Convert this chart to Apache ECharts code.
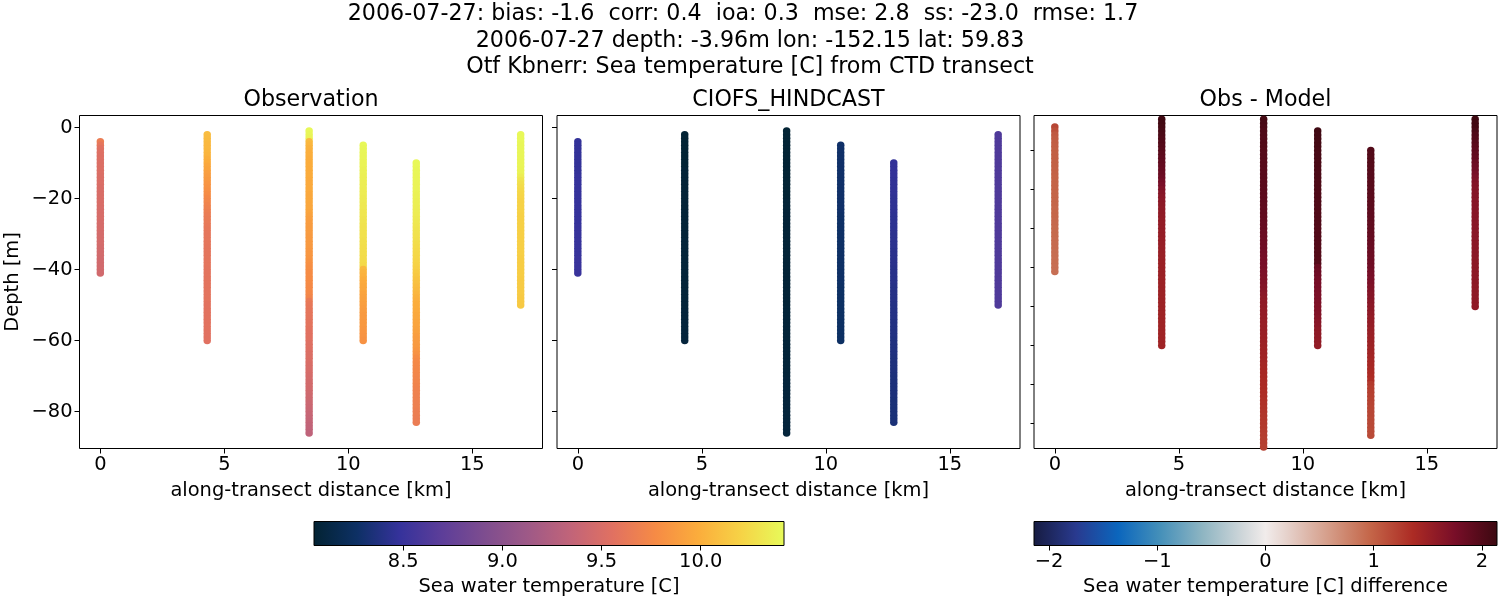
<!DOCTYPE html>
<html><head><meta charset="utf-8">
<style>html,body{margin:0;padding:0;background:#fff}#c{width:1500px;height:600px}</style>
<script src="https://cdn.jsdelivr.net/npm/echarts@6/dist/echarts.min.js"></script>
</head><body><div id="c"></div>
<script>
const FONT = 'DejaVu Sans';
const titleLines = [
  '2006-07-27: bias: -1.6  corr: 0.4  ioa: 0.3  mse: 2.8  ss: -23.0  rmse: 1.7',
  '2006-07-27 depth: -3.96m lon: -152.15 lat: 59.83',
  'Otf Kbnerr: Sea temperature [C] from CTD transect'
];
const panelTitles = ['Observation', 'CIOFS_HINDCAST', 'Obs - Model'];
const xName = 'along-transect distance [km]';
const xTicks = [0, 5, 10, 15];
const yTicks = [0, -20, -40, -60, -80];
const yTicksDiff = [-10, -20, -30, -40, -50, -60, -70, -80];
const cbTicks = [8.5, 9.0, 9.5, 10.0];
const cbDiffTicks = [-2, -1, 0, 1, 2];
const tempRange = [8.05, 10.42];
const diffRange = [-2.14, 2.14];

const thermal = ['rgb(3,35,51)','rgb(13,48,100)','rgb(53,50,155)','rgb(93,62,153)','rgb(126,77,143)','rgb(158,89,135)','rgb(193,100,121)','rgb(225,113,97)','rgb(246,139,69)','rgb(251,173,60)','rgb(246,211,70)','rgb(231,250,90)'];
const balance = ['rgb(23,28,66)','rgb(32,43,104)','rgb(41,58,143)','rgb(26,80,166)','rgb(11,102,189)','rgb(40,123,187)','rgb(69,144,185)','rgb(105,162,190)','rgb(142,181,194)','rgb(176,198,206)','rgb(210,216,219)','rgb(241,236,235)','rgb(230,210,204)','rgb(221,183,170)','rgb(213,157,137)','rgb(204,129,104)','rgb(196,101,72)','rgb(184,72,54)','rgb(172,43,36)','rgb(146,28,38)','rgb(120,14,40)','rgb(90,11,28)','rgb(60,9,17)'];

const distances = [0, 4.31, 8.42, 10.6, 12.74, 16.95];

const depth0 = [-3.96,-5,-6,-7,-8,-9,-10,-11,-12,-13,-14,-15,-16,-17,-18,-19,-20,-21,-22,-23,-24,-25,-26,-27,-28,-29,-30,-31,-32,-33,-34,-35,-36,-37,-38,-39,-40,-41];
const depth1 = [-2,-3,-4,-5,-6,-7,-8,-9,-10,-11,-12,-13,-14,-15,-16,-17,-18,-19,-20,-21,-22,-23,-24,-25,-26,-27,-28,-29,-30,-31,-32,-33,-34,-35,-36,-37,-38,-39,-40,-41,-42,-43,-44,-45,-46,-47,-48,-49,-50,-51,-52,-53,-54,-55,-56,-57,-58,-59,-60];
const depth2 = [-1,-2,-3,-4,-5,-6,-7,-8,-9,-10,-11,-12,-13,-14,-15,-16,-17,-18,-19,-20,-21,-22,-23,-24,-25,-26,-27,-28,-29,-30,-31,-32,-33,-34,-35,-36,-37,-38,-39,-40,-41,-42,-43,-44,-45,-46,-47,-48,-49,-50,-51,-52,-53,-54,-55,-56,-57,-58,-59,-60,-61,-62,-63,-64,-65,-66,-67,-68,-69,-70,-71,-72,-73,-74,-75,-76,-77,-78,-79,-80,-81,-82,-83,-84,-85,-86];
const depth3 = [-5,-6,-7,-8,-9,-10,-11,-12,-13,-14,-15,-16,-17,-18,-19,-20,-21,-22,-23,-24,-25,-26,-27,-28,-29,-30,-31,-32,-33,-34,-35,-36,-37,-38,-39,-40,-41,-42,-43,-44,-45,-46,-47,-48,-49,-50,-51,-52,-53,-54,-55,-56,-57,-58,-59,-60];
const depth4 = [-10,-11,-12,-13,-14,-15,-16,-17,-18,-19,-20,-21,-22,-23,-24,-25,-26,-27,-28,-29,-30,-31,-32,-33,-34,-35,-36,-37,-38,-39,-40,-41,-42,-43,-44,-45,-46,-47,-48,-49,-50,-51,-52,-53,-54,-55,-56,-57,-58,-59,-60,-61,-62,-63,-64,-65,-66,-67,-68,-69,-70,-71,-72,-73,-74,-75,-76,-77,-78,-79,-80,-81,-82,-83];
const depth5 = [-2,-3,-4,-5,-6,-7,-8,-9,-10,-11,-12,-13,-14,-15,-16,-17,-18,-19,-20,-21,-22,-23,-24,-25,-26,-27,-28,-29,-30,-31,-32,-33,-34,-35,-36,-37,-38,-39,-40,-41,-42,-43,-44,-45,-46,-47,-48,-49,-50];

const obs0 = [9.66,9.6,9.55,9.54,9.53,9.53,9.52,9.52,9.52,9.52,
 9.51,9.51,9.51,9.5,9.5,9.5,9.5,9.5,9.5,9.49,
 9.49,9.49,9.49,9.48,9.48,9.48,9.47,9.47,9.47,9.47,
 9.46,9.46,9.46,9.45,9.45,9.45,9.45,9.45];
const obs1 = [10.08,10.07,10.06,10.05,10.05,10.04,10.03,10.0,9.98,9.95,
 9.93,9.9,9.88,9.86,9.84,9.82,9.8,9.78,9.75,9.73,
 9.71,9.69,9.67,9.65,9.64,9.63,9.62,9.61,9.6,9.6,
 9.6,9.6,9.59,9.59,9.59,9.59,9.59,9.59,9.58,9.58,
 9.58,9.58,9.58,9.58,9.58,9.58,9.58,9.58,9.57,9.57,
 9.57,9.57,9.57,9.57,9.57,9.57,9.56,9.56,9.56];
const obs2 = [10.41,10.4,10.38,10.06,10.04,10.02,10.0,10.0,9.99,9.99,
 9.99,9.98,9.98,9.98,9.97,9.97,9.97,9.97,9.96,9.96,
 9.96,9.95,9.95,9.94,9.92,9.9,9.89,9.88,9.88,9.88,
 9.87,9.87,9.87,9.86,9.85,9.85,9.84,9.82,9.8,9.79,
 9.78,9.78,9.77,9.77,9.76,9.76,9.75,9.72,9.64,9.62,
 9.61,9.6,9.6,9.59,9.58,9.58,9.57,9.56,9.56,9.55,
 9.54,9.54,9.53,9.52,9.52,9.51,9.5,9.49,9.49,9.48,
 9.47,9.46,9.46,9.45,9.44,9.43,9.42,9.41,9.4,9.39,
 9.38,9.37,9.36,9.35,9.34,9.33];
const obs3 = [10.41,10.4,10.4,10.39,10.39,10.38,10.38,10.37,10.37,10.36,
 10.36,10.35,10.35,10.34,10.34,10.33,10.33,10.32,10.32,10.31,
 10.31,10.3,10.3,10.29,10.29,10.28,10.28,10.27,10.27,10.26,
 10.26,10.26,10.25,10.25,10.24,10.06,10.03,10.01,9.99,9.97,
 9.96,9.95,9.93,9.92,9.91,9.9,9.89,9.88,9.87,9.87,
 9.86,9.86,9.85,9.84,9.83,9.82];
const obs4 = [10.41,10.41,10.4,10.4,10.39,10.39,10.38,10.38,10.38,10.37,
 10.37,10.36,10.36,10.35,10.35,10.34,10.33,10.32,10.31,10.3,
 10.29,10.28,10.27,10.26,10.25,10.24,10.23,10.22,10.21,10.2,
 10.18,10.16,10.14,10.12,10.1,10.08,10.06,10.04,10.02,10.0,
 9.99,9.98,9.97,9.96,9.95,9.94,9.93,9.92,9.91,9.89,
 9.88,9.87,9.86,9.84,9.82,9.78,9.76,9.75,9.74,9.74,
 9.73,9.72,9.72,9.71,9.7,9.7,9.69,9.69,9.68,9.68,
 9.67,9.67,9.66,9.66];
const obs5 = [10.41,10.41,10.41,10.4,10.4,10.4,10.4,10.39,10.39,10.39,
 10.38,10.38,10.34,10.3,10.27,10.25,10.23,10.22,10.21,10.2,
 10.2,10.2,10.2,10.19,10.19,10.19,10.19,10.19,10.18,10.18,
 10.18,10.18,10.18,10.18,10.18,10.17,10.17,10.17,10.17,10.17,
 10.17,10.16,10.16,10.16,10.16,10.16,10.15,10.15,10.15];

const mod0 = [8.47,8.47,8.47,8.47,8.47,8.47,8.47,8.47,8.47,8.47,
 8.48,8.48,8.48,8.48,8.48,8.48,8.48,8.48,8.48,8.48,
 8.48,8.48,8.48,8.48,8.49,8.49,8.49,8.49,8.49,8.49,
 8.49,8.49,8.49,8.5,8.5,8.5,8.5,8.5];
const mod1 = [8.06,8.06,8.06,8.06,8.06,8.06,8.06,8.06,8.06,8.06,
 8.07,8.07,8.07,8.07,8.07,8.07,8.07,8.07,8.07,8.07,
 8.07,8.07,8.07,8.07,8.07,8.07,8.07,8.07,8.07,8.07,
 8.08,8.08,8.08,8.08,8.08,8.08,8.08,8.08,8.08,8.08,
 8.08,8.08,8.08,8.08,8.08,8.08,8.08,8.08,8.08,8.08,
 8.09,8.09,8.09,8.09,8.09,8.09,8.09,8.09,8.09];
const mod2 = [8.06,8.06,8.06,8.06,8.06,8.06,8.06,8.06,8.06,8.06,
 8.06,8.06,8.06,8.06,8.06,8.06,8.06,8.06,8.06,8.06,
 8.07,8.07,8.07,8.07,8.07,8.07,8.07,8.07,8.07,8.07,
 8.07,8.07,8.07,8.07,8.07,8.07,8.07,8.07,8.07,8.07,
 8.07,8.07,8.07,8.07,8.07,8.07,8.07,8.07,8.07,8.07,
 8.08,8.08,8.08,8.08,8.08,8.08,8.08,8.08,8.08,8.08,
 8.08,8.08,8.08,8.08,8.08,8.08,8.08,8.08,8.08,8.08,
 8.09,8.09,8.09,8.09,8.09,8.09,8.09,8.09,8.09,8.09,
 8.09,8.09,8.09,8.09,8.09,8.09];
const mod3 = [8.28,8.28,8.28,8.28,8.28,8.28,8.28,8.28,8.28,8.28,
 8.28,8.28,8.28,8.28,8.28,8.28,8.28,8.28,8.28,8.28,
 8.27,8.27,8.27,8.27,8.27,8.27,8.27,8.27,8.27,8.27,
 8.27,8.27,8.27,8.27,8.27,8.27,8.27,8.27,8.27,8.27,
 8.26,8.26,8.26,8.26,8.26,8.26,8.26,8.26,8.26,8.26,
 8.26,8.26,8.26,8.26,8.26,8.26];
const mod4 = [8.47,8.47,8.47,8.47,8.47,8.46,8.46,8.46,8.46,8.46,
 8.45,8.45,8.45,8.45,8.45,8.44,8.44,8.44,8.44,8.44,
 8.43,8.43,8.43,8.43,8.43,8.42,8.42,8.42,8.42,8.42,
 8.41,8.41,8.41,8.41,8.41,8.4,8.4,8.4,8.4,8.4,
 8.39,8.39,8.39,8.39,8.39,8.38,8.38,8.38,8.38,8.38,
 8.37,8.37,8.37,8.37,8.37,8.36,8.36,8.36,8.36,8.36,
 8.35,8.35,8.35,8.35,8.35,8.35,8.35,8.34,8.34,8.34,
 8.34,8.34,8.34,8.34];
const mod5 = [8.62,8.62,8.62,8.62,8.62,8.62,8.62,8.62,8.62,8.62,
 8.62,8.62,8.62,8.62,8.62,8.62,8.62,8.62,8.62,8.62,
 8.62,8.62,8.62,8.62,8.62,8.62,8.62,8.62,8.62,8.62,
 8.62,8.62,8.62,8.62,8.62,8.62,8.62,8.62,8.62,8.62,
 8.62,8.62,8.62,8.62,8.62,8.62,8.62,8.62,8.62];

const dif0 = [1.18,1.12,1.05,1.03,1.02,1.01,1.0,1.0,1.0,1.0,
 1.0,0.99,0.99,0.98,0.98,0.98,0.98,0.97,0.97,0.97,
 0.97,0.96,0.96,0.96,0.95,0.95,0.94,0.94,0.94,0.93,
 0.93,0.93,0.92,0.92,0.91,0.91,0.9,0.9];
const dif1 = [2.12,2.1,2.08,2.06,2.04,2.02,2.0,1.98,1.96,1.94,
 1.92,1.9,1.88,1.86,1.85,1.82,1.78,1.74,1.7,1.66,
 1.63,1.61,1.6,1.59,1.58,1.57,1.56,1.55,1.55,1.54,
 1.54,1.53,1.53,1.52,1.52,1.51,1.51,1.5,1.5,1.5,
 1.5,1.49,1.49,1.49,1.49,1.48,1.48,1.48,1.48,1.48,
 1.47,1.47,1.47,1.47,1.47,1.46,1.46,1.46,1.46];
const dif2 = [2.1,2.08,2.06,2.04,2.02,2.01,2.0,2.0,1.99,1.98,
 1.97,1.97,1.96,1.96,1.95,1.95,1.95,1.94,1.94,1.93,
 1.93,1.92,1.92,1.91,1.9,1.9,1.89,1.88,1.87,1.86,
 1.84,1.83,1.82,1.81,1.8,1.79,1.78,1.76,1.75,1.74,
 1.72,1.71,1.7,1.69,1.67,1.65,1.62,1.6,1.58,1.57,
 1.56,1.55,1.54,1.53,1.52,1.52,1.51,1.5,1.49,1.48,
 1.47,1.46,1.45,1.44,1.42,1.41,1.4,1.39,1.38,1.37,
 1.36,1.35,1.34,1.33,1.32,1.31,1.3,1.29,1.28,1.27,
 1.26,1.25,1.24,1.23,1.22,1.21];
const dif3 = [2.12,2.11,2.1,2.09,2.08,2.07,2.06,2.06,2.05,2.05,
 2.04,2.04,2.04,2.03,2.03,2.03,2.02,2.02,2.02,2.02,
 2.02,2.01,2.01,2.01,2.01,2.0,2.0,2.0,2.0,2.0,
 1.99,1.99,1.99,1.98,1.98,1.85,1.82,1.8,1.78,1.76,
 1.75,1.74,1.73,1.72,1.71,1.7,1.69,1.68,1.66,1.64,
 1.62,1.6,1.59,1.58,1.57,1.56];
const dif4 = [2.0,2.0,1.99,1.99,1.98,1.98,1.97,1.97,1.96,1.96,
 1.95,1.95,1.94,1.94,1.93,1.93,1.92,1.92,1.91,1.9,
 1.9,1.89,1.88,1.87,1.86,1.85,1.84,1.83,1.82,1.81,
 1.8,1.78,1.76,1.74,1.72,1.7,1.68,1.66,1.65,1.63,
 1.61,1.6,1.58,1.56,1.55,1.54,1.52,1.51,1.5,1.49,
 1.48,1.47,1.45,1.44,1.42,1.41,1.4,1.38,1.36,1.34,
 1.26,1.24,1.23,1.22,1.21,1.2,1.19,1.18,1.18,1.17,
 1.16,1.16,1.15,1.15];
const dif5 = [2.12,2.11,2.1,2.06,2.02,2.0,1.97,1.94,1.92,1.9,
 1.88,1.85,1.82,1.8,1.76,1.72,1.69,1.67,1.66,1.65,
 1.65,1.64,1.64,1.64,1.63,1.63,1.63,1.62,1.62,1.62,
 1.62,1.62,1.61,1.61,1.61,1.61,1.6,1.6,1.6,1.6,
 1.6,1.6,1.6,1.59,1.59,1.59,1.59,1.59,1.58];

const depths = [depth0, depth1, depth2, depth3, depth4, depth5];
function points(columns) {
  const out = [];
  columns.forEach((vals, c) => vals.forEach((v, i) => out.push([distances[c], depths[c][i], v])));
  return out;
}
const obsPoints = points([obs0, obs1, obs2, obs3, obs4, obs5]);
const modPoints = points([mod0, mod1, mod2, mod3, mod4, mod5]);
const difPoints = points([dif0, dif1, dif2, dif3, dif4, dif5]);

const minus = v => String(v).replace('-', '\u2212');
const fs = 19.44, tfs = 22.2;
const panelLeft = [79.5, 557, 1034];
const panelW = 463, panelTop = 115.5, panelH = 333;

const grids = panelLeft.map(l => ({left: l, top: panelTop, width: panelW, height: panelH, show: true, borderColor: '#000', borderWidth: 1, backgroundColor: '#fff'}));
grids.push({left: 314, top: 521.5, width: 470, height: 24, show: true, borderColor: '#000', borderWidth: 1, backgroundColor: 'transparent', z: 5});
grids.push({left: 1034, top: 521.5, width: 463, height: 24, show: true, borderColor: '#000', borderWidth: 1, backgroundColor: 'transparent', z: 5});

const noLine = {show: false, onZero: false};
const xAxes = [0, 1, 2].map(i => ({
  gridIndex: i, type: 'value', min: -0.84, max: 17.83,
  name: xName, nameLocation: 'middle', nameGap: 33,
  nameTextStyle: {fontFamily: FONT, fontSize: fs, color: '#000'},
  axisLine: noLine, splitLine: {show: false},
  axisTick: {show: true, length: 5, inside: false, customValues: xTicks, lineStyle: {color: '#000', width: 1}},
  axisLabel: {show: true, margin: 7, fontFamily: FONT, fontSize: fs, color: '#000', customValues: xTicks, formatter: minus}
}));
function cbAxis(i, range, ticks, name) {
  return {gridIndex: i, type: 'value', min: range[0], max: range[1],
    name, nameLocation: 'middle', nameGap: 32,
    nameTextStyle: {fontFamily: FONT, fontSize: fs, color: '#000'},
    axisLine: noLine, splitLine: {show: false},
    axisTick: {show: true, length: 5, customValues: ticks, lineStyle: {color: '#000', width: 1}},
    axisLabel: {show: true, margin: 7, fontFamily: FONT, fontSize: fs, color: '#000', customValues: ticks,
      formatter: v => minus(i === 3 ? Number(v).toFixed(1) : v)}};
}
xAxes.push(cbAxis(3, tempRange, cbTicks, 'Sea water temperature [C]'));
xAxes.push(cbAxis(4, diffRange, cbDiffTicks, 'Sea water temperature [C] difference'));

const yAxes = [
  {gridIndex: 0, type: 'value', min: -90.4, max: 3.4, name: 'Depth [m]', nameLocation: 'middle', nameGap: 57,
   nameTextStyle: {fontFamily: FONT, fontSize: fs, color: '#000'},
   axisLine: noLine, splitLine: {show: false},
   axisTick: {show: true, length: 5, customValues: yTicks, lineStyle: {color: '#000', width: 1}},
   axisLabel: {show: true, margin: 7, padding: [2, 0, 0, 0], fontFamily: FONT, fontSize: fs, color: '#000', customValues: yTicks, formatter: minus}},
  {gridIndex: 1, type: 'value', min: -90.4, max: 3.4,
   axisLine: noLine, splitLine: {show: false},
   axisTick: {show: true, length: 5, customValues: yTicks, lineStyle: {color: '#000', width: 1}},
   axisLabel: {show: false}},
  {gridIndex: 2, type: 'value', min: -86.4, max: -1.03,
   axisLine: noLine, splitLine: {show: false},
   axisTick: {show: true, length: 3.5, customValues: yTicksDiff, lineStyle: {color: '#000', width: 1}},
   axisLabel: {show: false}},
  {gridIndex: 3, type: 'value', min: 0, max: 1, show: false},
  {gridIndex: 4, type: 'value', min: 0, max: 1, show: false}
];

function scatter(i, data) {
  return {type: 'scatter', xAxisIndex: i, yAxisIndex: i, data, symbol: 'circle', symbolSize: 7.5,
    itemStyle: {opacity: 1}, clip: true, animation: false, silent: true, progressive: 0, encode: {x: 0, y: 1}};
}
function colorbar(i, range, colors) {
  return {type: 'custom', xAxisIndex: i, yAxisIndex: i, data: [[range[0], range[1]]], silent: true, animation: false, clip: true,
    encode: {x: [0, 1]},
    renderItem(params, api) {
      const a = api.coord([api.value(0), 0]), b = api.coord([api.value(1), 1]);
      const stops = colors.map((c, k) => ({offset: k / (colors.length - 1), color: c}));
      return {type: 'rect', shape: {x: a[0], y: b[1], width: b[0] - a[0], height: a[1] - b[1]},
        style: {fill: new echarts.graphic.LinearGradient(0, 0, 1, 0, stops)}};
    }};
}

const titles = titleLines.map((t, i) => ({text: t, left: [743, 750, 750][i], top: [3, 30, 56.5][i], textAlign: 'center', padding: 0,
  textStyle: {fontFamily: FONT, fontSize: tfs, fontWeight: 'normal', color: '#000'}}));
panelTitles.forEach((t, i) => titles.push({text: t, left: panelLeft[i] + panelW / 2, top: 89, textAlign: 'center', padding: 0,
  textStyle: {fontFamily: FONT, fontSize: tfs, fontWeight: 'normal', color: '#000'}}));

const chart = echarts.init(document.getElementById('c'), null, {renderer: 'canvas'});
chart.setOption({
  animation: false, backgroundColor: '#fff', title: titles, grid: grids, xAxis: xAxes, yAxis: yAxes,
  visualMap: [
    {show: false, type: 'continuous', seriesIndex: [0, 1], dimension: 2, min: tempRange[0], max: tempRange[1], inRange: {color: thermal}},
    {show: false, type: 'continuous', seriesIndex: 2, dimension: 2, min: diffRange[0], max: diffRange[1], inRange: {color: balance}}
  ],
  series: [scatter(0, obsPoints), scatter(1, modPoints), scatter(2, difPoints),
    colorbar(3, tempRange, thermal), colorbar(4, diffRange, balance)]
});
</script></body></html>
